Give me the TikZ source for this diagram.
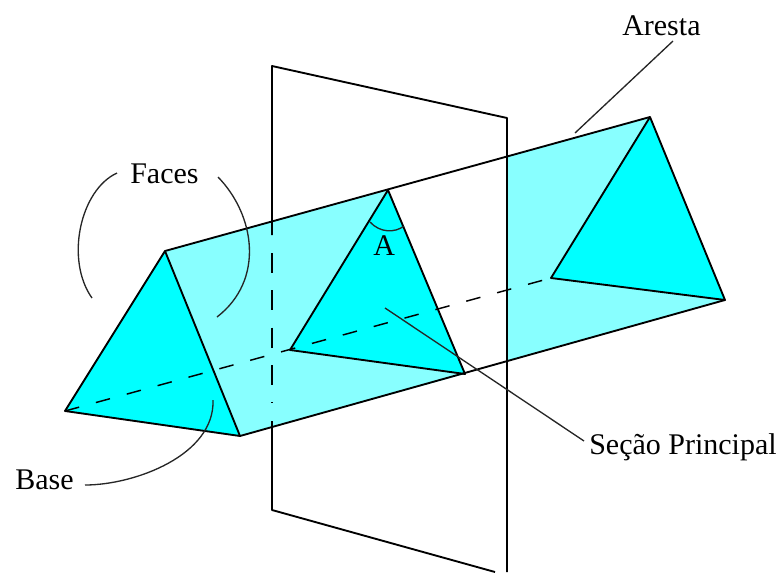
\documentclass[tikz,border=0pt]{standalone}
\usepackage{fontspec}
\setmainfont{Liberation Serif}
\definecolor{basecyan}{HTML}{00FFFF}
\definecolor{facecyan}{HTML}{88FFFF}
\tikzset{
  edge/.style={line width=1.4pt,line join=round},
  leader/.style={line width=1pt,black!85},
  hidden/.style={line width=1.1pt,dash pattern=on 11pt off 13pt},
  label/.style={font=\fontsize{22.5}{26}\selectfont,anchor=base west,inner sep=0pt}
}
\begin{document}
\begin{tikzpicture}[x=0.75pt,y=-0.75pt]
\useasboundingbox (0,0) rectangle (779,572);
% prism vertices
\coordinate (fa) at (165,251);
\coordinate (fl) at (65,411);
\coordinate (fr) at (240,436);
\coordinate (ma) at (388,190);
\coordinate (ml) at (290,350);
\coordinate (mr) at (465,374);
\coordinate (ba) at (650,117);
\coordinate (bl) at (551,278);
\coordinate (br) at (725,300);
% where the plane cuts the long edges
\coordinate (ct) at (507,157);
\coordinate (cb) at (507,361);
% plane corners
\coordinate (p1) at (272,66);
\coordinate (p2) at (507,118);
\coordinate (p3) at (507,572);
\coordinate (p4) at (495,572);
\coordinate (p5) at (272,510);

\fill[facecyan] (fa) -- (ma) -- (ml) -- (mr) -- (fr) -- cycle;
\fill[facecyan] (ct) -- (ba) -- (br) -- (cb) -- cycle;
\fill[basecyan] (fa) -- (fl) -- (fr) -- cycle;
\fill[basecyan] (ma) -- (ml) -- (mr) -- cycle;
\fill[basecyan] (ba) -- (bl) -- (br) -- cycle;

\draw[edge] (fa) -- (fl) -- (fr) -- cycle;
\draw[edge] (ma) -- (ml) -- (mr) -- cycle;
\draw[edge] (ba) -- (bl) -- (br) -- cycle;
\draw[edge] (fa) -- (ba);
\draw[edge] (fr) -- (br);
\draw[hidden] (fl) -- (bl);

% plane
\draw[edge] (272,235) -- (p1) -- (p2) -- (p3);
\draw[edge] (272,421) -- (p5) -- (p4);
\draw[line width=1.4pt,dash pattern=on 15pt off 13pt] (272,253) -- (272,403);

% labels
\node[label] (faces) at (130,183) {Faces};
\node[label] (base) at (15,489) {Base};
\node[label] (aresta) at (622,35) {Aresta};
\node[label] (secao) at (589,454) {Seção Principal};
\node[label] (angle) at (373,255) {A};

\coordinate (f1) at (117,173);
\coordinate (f2) at (92,298);
\coordinate (f3) at (218,177);
\coordinate (f4) at (217,317);
\coordinate (b1) at (85,485);
\coordinate (b2) at (213,400);
\coordinate (a1) at (673,41);
\coordinate (a2) at (575,133);
\coordinate (s1) at (584,441);
\coordinate (s2) at (385,308);
\coordinate (t1) at (370,222);
\coordinate (t2) at (404,226);

\draw[leader] (f1) .. controls (80,190) and (65,260) .. (f2);
\draw[leader] (f3) .. controls (255,215) and (265,280) .. (f4);
\draw[leader] (b1) .. controls (135,485) and (215,455) .. (b2);
\draw[leader] (a1) -- (a2);
\draw[leader] (s1) -- (s2);
\draw[leader] (t1) .. controls (380,233) and (395,233) .. (t2);
\end{tikzpicture}
\end{document}
